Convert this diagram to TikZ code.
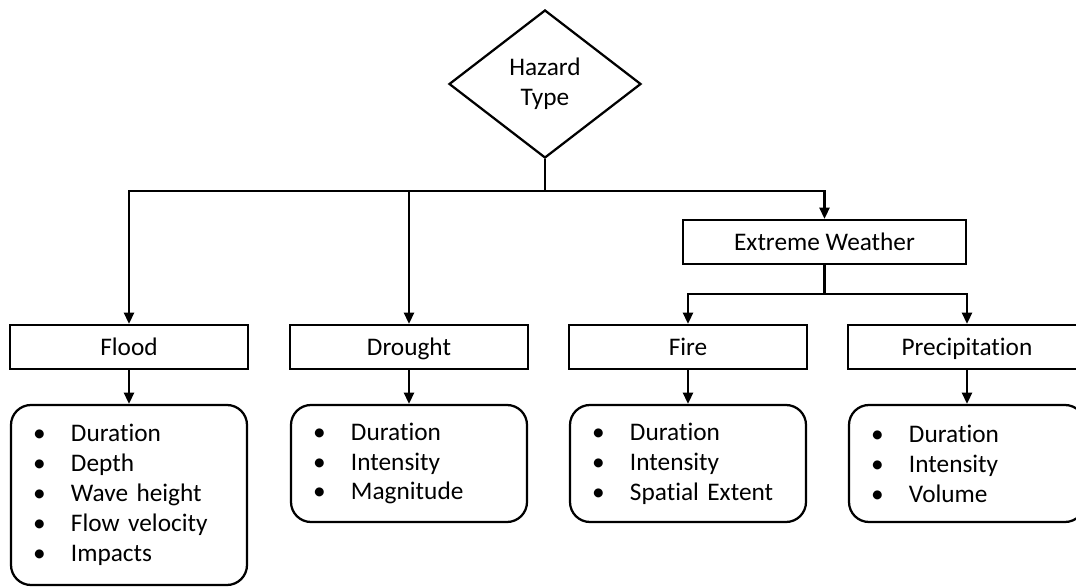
\documentclass[tikz,border=0pt]{standalone}
\usepackage{fontspec}
\setmainfont{Carlito}[Ligatures=NoCommon]
\usetikzlibrary{arrows.meta}
\usetikzlibrary{shapes.geometric}

% one bullet line of an attribute list
\newcommand{\itm}[1]{\makebox[0.95cm][l]{•}#1}

\begin{document}
\begin{tikzpicture}[
  line width=1.6pt,
  font=\fontsize{18}{21.3}\selectfont,
  decision/.style={draw, diamond, minimum width=4.8cm, minimum height=3.7cm, inner sep=0pt, align=center},
  hazbox/.style={draw, rectangle, minimum width=5.95cm, minimum height=1.1cm, inner sep=0pt, text height=12.6pt, text depth=1pt},
  attrbox/.style={draw, rounded corners=0.5cm, text width=4.8cm, inner xsep=0.55cm, align=left},
  arr/.style={-{Triangle[width=0.25cm,length=0.28cm]}}
]
\useasboundingbox (0,0) rectangle (26.9,-14.675);

% hazard types
\node[decision] (haz) at (13.625,-2.1) {Hazard\\Type};
\node[hazbox, minimum width=7.075cm] (weather) at (20.6125,-6.05) {Extreme Weather};
\node[hazbox] (flood) at (3.225,-8.675) {Flood};
\node[hazbox] (drought) at (10.225,-8.675) {Drought};
\node[hazbox] (fire) at (17.2,-8.675) {Fire};
\node[hazbox] (precip) at (24.175,-8.675) {Precipitation};

% attributes of each type
\node[attrbox, minimum height=4.5cm] (flood-list) at (3.225,-12.375)
  {\itm{Duration}\\\itm{Depth}\\\itm{Wave height}\\\itm{Flow velocity}\\\itm{Impacts}};
\node[attrbox, minimum height=2.925cm] (drought-list) at (10.225,-11.5875)
  {\itm{Duration}\\\itm{Intensity}\\\itm{Magnitude}};
\node[attrbox, minimum height=2.925cm] (fire-list) at (17.2,-11.5875)
  {\itm{Duration}\\\itm{Intensity}\\\itm{Spatial Extent}};
\node[attrbox, minimum height=2.925cm] (precip-list) at (24.175,-11.5875)
  {\itm{Duration}\\\itm{Intensity}\\\itm{Volume}};

% branching
\coordinate (split) at (13.625,-4.775);
\coordinate (wsplit) at (20.6125,-7.35);
\draw (haz.south) -- (split);
\draw[arr] (split) -| (flood.north);
\draw[arr] (split) -| (drought.north);
\draw[arr] (split) -| (weather.north);
\draw (weather.south) -- (wsplit);
\draw[arr] (wsplit) -| (fire.north);
\draw[arr] (wsplit) -| (precip.north);
\foreach \n in {flood,drought,fire,precip}
  \draw[arr] (\n.south) -- (\n-list.north);
\end{tikzpicture}
\end{document}
